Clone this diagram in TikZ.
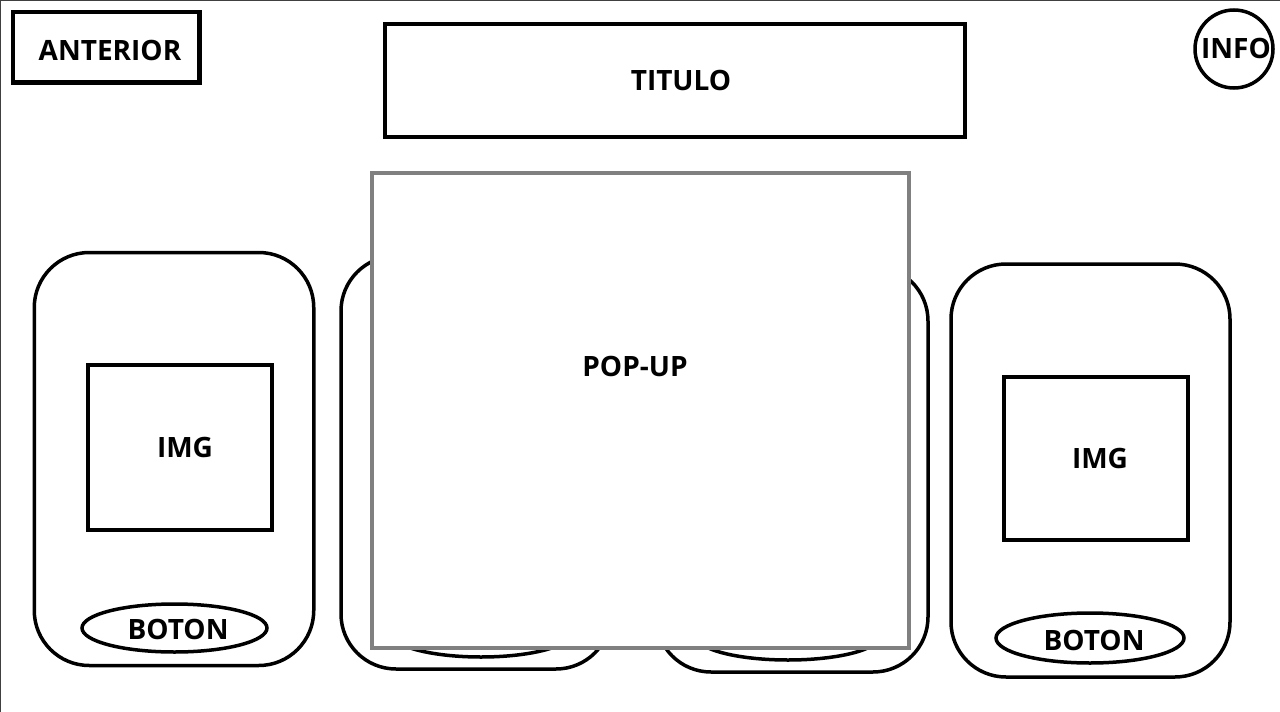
\documentclass[tikz,border=0pt]{standalone}
\usepackage{fontspec}
\setmainfont{Open Sans}
\usetikzlibrary{shapes.geometric}
\tikzset{
  lbl/.style={font=\bfseries\fontsize{28}{30}\selectfont, inner sep=0pt, text=black},
  frame/.style={draw=black, line width=4.5pt, inner sep=0pt, fill=white},
  card/.style={draw=black, line width=3.5pt, rounded corners=55pt, inner sep=0pt, fill=white},
  imgbox/.style={draw=black, line width=4pt, inner sep=0pt, fill=white},
  btn/.style={ellipse, draw=black, line width=3.5pt, inner sep=0pt, fill=white},
  popbox/.style={draw=black!50, line width=4pt, inner sep=0pt, fill=white},
  edge/.style={draw=black!75, line width=1.2pt}
}
\begin{document}
\begin{tikzpicture}[x=1pt,y=-1pt]
\useasboundingbox (0,0) rectangle (1280,712);
\fill[white] (0,0) rectangle (1280,712);
% outer frame edges
\coordinate (tl) at (0.6,0.6);
\coordinate (tr) at (1280,0.6);
\coordinate (bl) at (0.6,712);
\draw[edge] (bl) -- (tl) -- (tr);

% top bar
\node[frame, minimum width=186.5pt, minimum height=70.5pt] (antbox) at (106,47) {};
\node[lbl] (ant) at (110,50) {ANTERIOR};
\node[frame, line width=4pt, minimum width=580pt, minimum height=113pt] (titbox) at (675,80.5) {};
\node[lbl] (tit) at (681,80) {TITULO};
\node[circle, draw=black, line width=3.5pt, minimum size=78pt, inner sep=0pt] (infocirc) at (1234,49) {};
\node[lbl] (info) at (1236,48) {INFO};

% card 1 (left)
\node[card, minimum width=279.5pt, minimum height=413pt] (c1) at (174,459) {};
\node[imgbox, minimum width=184pt, minimum height=165pt] (img1) at (180,447.5) {};
\node[lbl] (img1t) at (185,447) {IMG};
\node[btn, minimum width=185pt, minimum height=48pt] (b1) at (174.5,628) {};
\node[lbl] (b1t) at (178,629) {BOTON};

% card 2 (behind popup)
\node[card, minimum width=270pt, minimum height=413pt] (c2) at (476,462.5) {};
\node[btn, minimum width=184pt, minimum height=50pt] (b2) at (481,632) {};

% card 3 (behind popup)
\node[card, minimum width=272pt, minimum height=406pt] (c3) at (792,469) {};
\node[btn, minimum width=184pt, minimum height=48pt] (b3) at (788,636) {};

% card 4 (right)
\node[card, minimum width=279pt, minimum height=413pt] (c4) at (1090.5,470.5) {};
\node[imgbox, minimum width=184pt, minimum height=163pt] (img4) at (1096,458.5) {};
\node[lbl] (img4t) at (1100,458) {IMG};
\node[btn, minimum width=188pt, minimum height=50pt] (b4) at (1090,638) {};
\node[lbl] (b4t) at (1094,640) {BOTON};

% popup
\node[popbox, minimum width=537pt, minimum height=475pt] (pop) at (640,410.5) {};
\node[lbl] (popt) at (635,366) {POP-UP};
\end{tikzpicture}
\end{document}
